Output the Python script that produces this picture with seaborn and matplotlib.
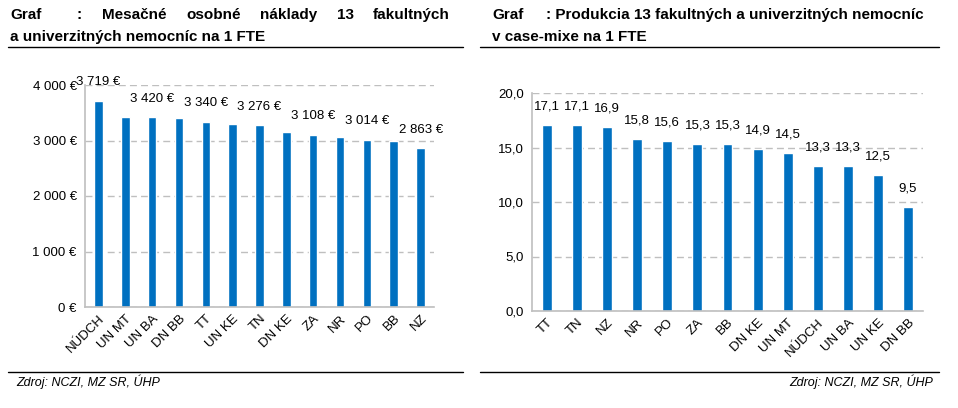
import pandas as pd
import seaborn as sns
import matplotlib.pyplot as plt
from matplotlib.lines import Line2D

# left chart: monthly personnel costs per FTE
cost_hosp = ['NÚDCH', 'UN MT', 'UN BA', 'DN BB', 'TT', 'UN KE', 'TN',
             'DN KE', 'ZA', 'NR', 'PO', 'BB', 'NZ']
cost_vals = [3719, 3431, 3420, 3407, 3340, 3305, 3276, 3150, 3108, 3060, 3014, 2994, 2863]
cost_yticks = [0, 1000, 2000, 3000, 4000]

# right chart: case-mix production per FTE
prod_hosp = ['TT', 'TN', 'NZ', 'NR', 'PO', 'ZA', 'BB', 'DN KE', 'UN MT',
             'NÚDCH', 'UN BA', 'UN KE', 'DN BB']
prod_vals = [17.1, 17.1, 16.9, 15.8, 15.6, 15.3, 15.3, 14.9, 14.5, 13.3, 13.3, 12.5, 9.5]
prod_yticks = [0, 5, 10, 15, 20]

title_left_words = ['Mesačné', 'osobné', 'náklady', '13', 'fakultných']
source = 'Zdroj: NCZI, MZ SR, ÚHP'

sns.set_style('white')
plt.rcParams['font.family'] = ['Liberation Sans', 'DejaVu Sans']
plt.rcParams['text.color'] = 'black'

BLUE = '#0070C0'
GRID = '#BFBFBF'
W, H = 958, 408
FS = 9.5


def fmt_eur(v):
    return f'{v:,.0f}'.replace(',', ' ') + ' €'


def fmt_dec(v):
    return f'{v:.1f}'.replace('.', ',')


fig = plt.figure(figsize=(W / 100, H / 100), dpi=100)
ax1 = fig.add_axes([85 / W, 1 - 307 / H, 349 / W, 222 / H])
ax2 = fig.add_axes([532 / W, 1 - 311 / H, 391 / W, 218 / H])

df1 = pd.DataFrame({'hosp': cost_hosp, 'val': cost_vals})
df2 = pd.DataFrame({'hosp': prod_hosp, 'val': prod_vals})
sns.barplot(data=df1, x='hosp', y='val', order=cost_hosp, color=BLUE,
            width=0.32, saturation=1, ax=ax1)
sns.barplot(data=df2, x='hosp', y='val', order=prod_hosp, color=BLUE,
            width=0.33, saturation=1, ax=ax2)

for ax, ticks, fmt in [(ax1, cost_yticks, fmt_eur), (ax2, prod_yticks, fmt_dec)]:
    ax.set_xlim(-0.5, 12.5)
    ax.set_ylim(ticks[0], ticks[-1])
    ax.set_yticks(ticks)
    ax.set_yticklabels([fmt(t) for t in ticks])
    ax.set_xlabel('')
    ax.set_ylabel('')
    ax.yaxis.grid(True, color=GRID, linestyle=(0, (5, 3)), linewidth=1)
    ax.set_axisbelow(True)
    for s in ['top', 'right']:
        ax.spines[s].set_visible(False)
    for s in ['left', 'bottom']:
        ax.spines[s].set_color('#BFBFBF')
        ax.spines[s].set_linewidth(1.2)
    ax.tick_params(axis='both', length=0, labelsize=FS, colors='black')
    ax.tick_params(axis='y', pad=6)
    ax.tick_params(axis='x', pad=4)
    plt.setp(ax.get_xticklabels(), rotation=45, ha='right',
             rotation_mode='anchor')

# value labels: left chart only every other bar
for i, v in enumerate(cost_vals):
    if i % 2 == 0:
        ax1.annotate(fmt_eur(v), (i, v), xytext=(0, 9), textcoords='offset points',
                     ha='center', va='bottom', fontsize=FS, annotation_clip=False)
for i, v in enumerate(prod_vals):
    ax2.annotate(fmt_dec(v), (i, v), xytext=(0, 9), textcoords='offset points',
                 ha='center', va='bottom', fontsize=FS, annotation_clip=False)

# titles
tkw = dict(fontsize=11, fontweight='bold', va='center', ha='left')
fig.text(10 / W, 1 - 15 / H, 'Graf', **tkw)
fig.text(77 / W, 1 - 15 / H, ':', **tkw)
# justified first line of the left title, between x=102 and x=450 px
renderer = fig.canvas.get_renderer()
words = [fig.text(0, 1 - 15 / H, w, **tkw) for w in title_left_words]
widths = [t.get_window_extent(renderer).width for t in words]
gap = (450 - 102 - sum(widths)) / (len(words) - 1)
x = 102
for t, w in zip(words, widths):
    t.set_x(x / W)
    x += w + gap
fig.text(10 / W, 1 - 37 / H, 'a univerzitných nemocníc na 1 FTE', **tkw)
fig.text(492 / W, 1 - 15 / H, 'Graf', **tkw)
fig.text(546 / W, 1 - 15 / H, ': Produkcia 13 fakultných a univerzitných nemocníc', **tkw)
fig.text(492 / W, 1 - 37 / H, 'v case-mixe na 1 FTE', **tkw)

# separator lines
for x0, x1 in [(8, 463), (480, 939)]:
    for y in (47, 372):
        fig.add_artist(Line2D([x0 / W, x1 / W], [1 - y / H, 1 - y / H],
                              color='black', linewidth=1))

fig.text(16 / W, 1 - 382 / H, source, fontsize=9, style='italic',
         va='center', ha='left')
fig.text(933 / W, 1 - 382 / H, source, fontsize=9, style='italic',
         va='center', ha='right')

fig.savefig('out.png', dpi=100, facecolor='white')
